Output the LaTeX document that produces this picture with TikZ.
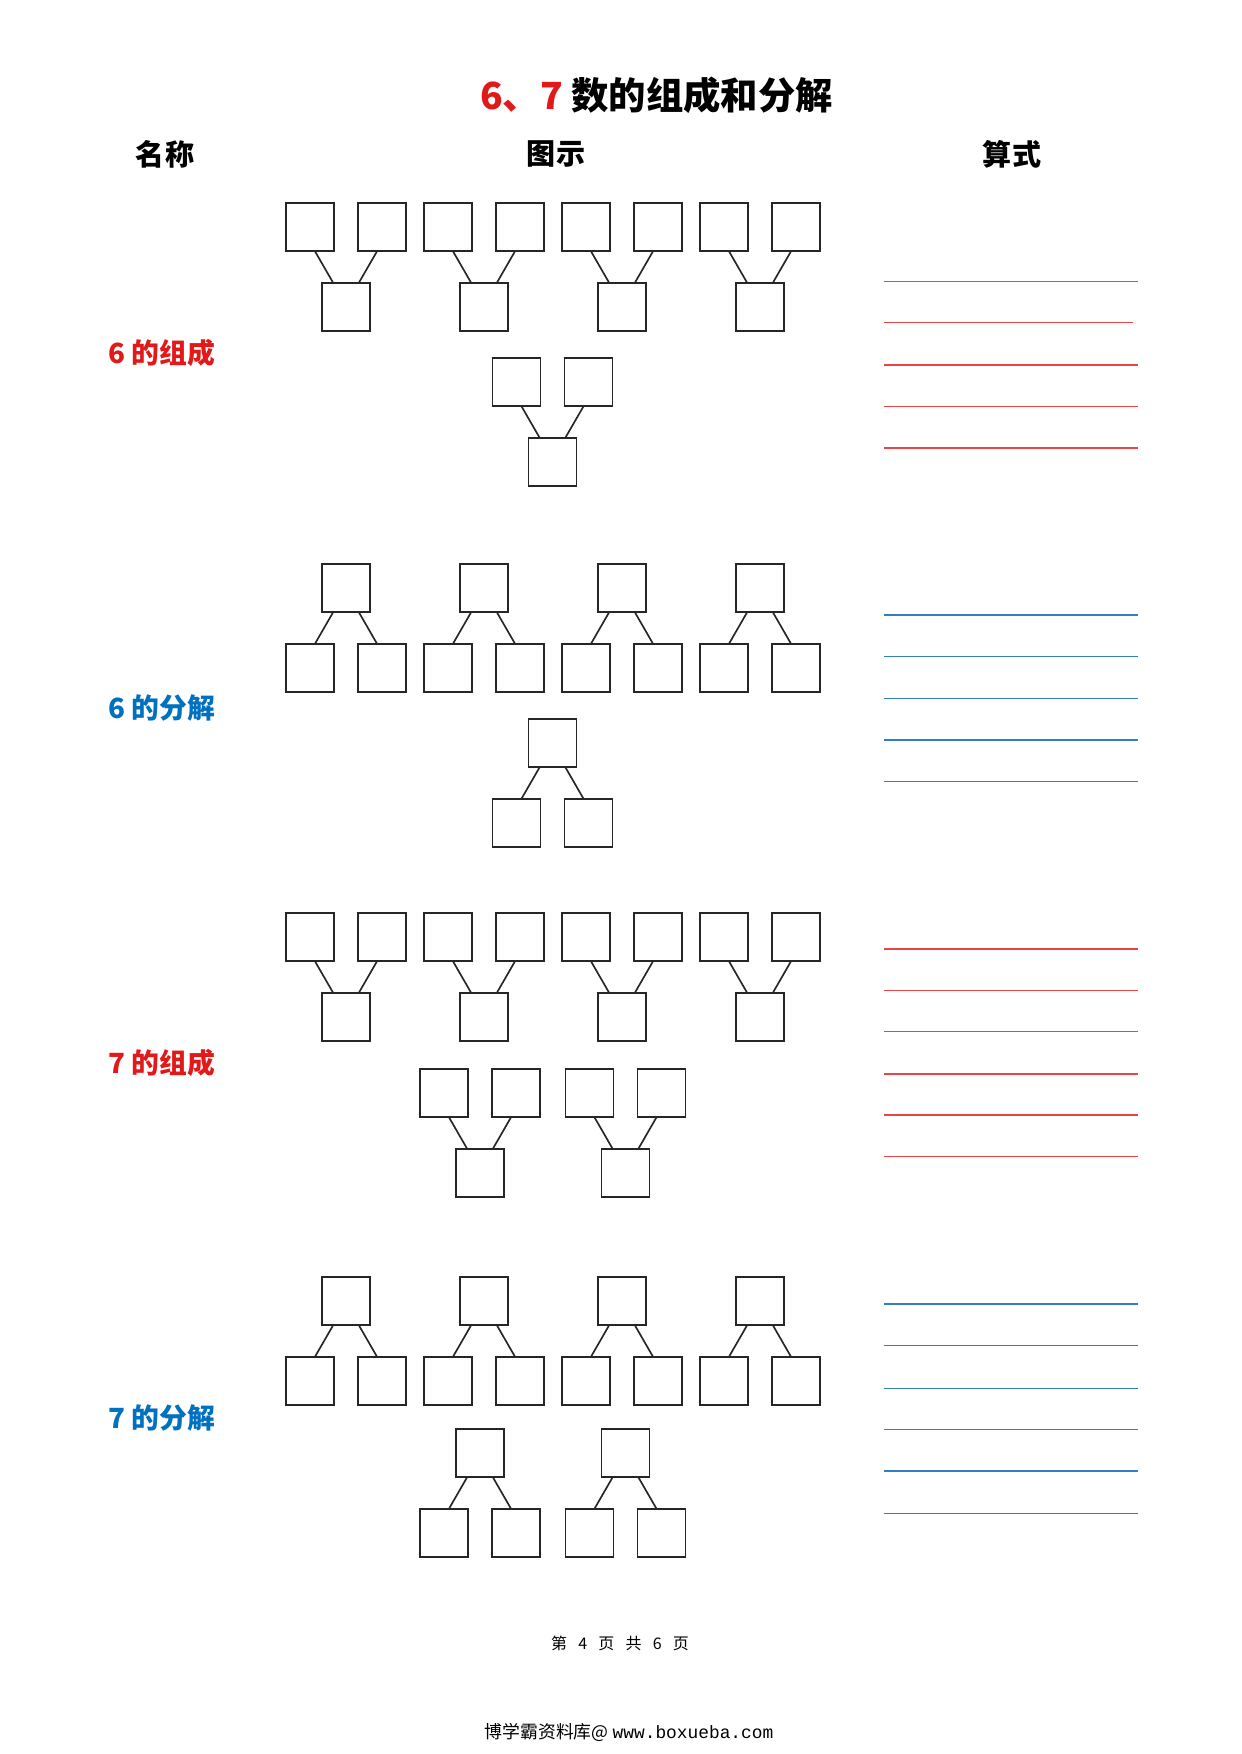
\documentclass[tikz,border=0pt]{standalone}
\usepackage{fontspec}
\usepackage{tikz}
\usetikzlibrary{positioning}
\newfontfamily\cjk{Noto Sans CJK SC}
\newfontfamily\webmono{Liberation Mono}
\definecolor{titelrot}{RGB}{226,25,25}
\definecolor{titelblau}{RGB}{0,112,192}
\definecolor{linierot}{RGB}{232,70,70}
\definecolor{linieblau}{RGB}{50,125,195}
\tikzset{blatt/.style={x=0.16933mm,y=-0.16933mm},
    kuang/.style={rectangle,draw=black!85,line width=0.8pt,minimum size=8.1mm,inner sep=0pt},
    lianxian/.style={draw=black!85,line width=0.8pt},
    hongxian/.style={draw=linierot,line width=0.6pt},
    lanxian/.style={draw=linieblau,line width=0.6pt},
    kopf/.style={font=\cjk\bfseries\fontsize{14}{16}\selectfont},
    biaoqian/.style={font=\cjk\bfseries\fontsize{13.4}{15}\selectfont,anchor=west}}

% two boxes above, one below: centre x, top y, name
\newcommand{\zucheng}[3]{%
    \node[kuang] (#3l) at (#1-36,#2+24) {};
    \node[kuang] (#3r) at (#1+36,#2+24) {};
    \node[kuang] (#3b) at (#1,#2+104) {};
    \path[lianxian] (#3l.-78) edge (#3b.118);
    \path[lianxian] (#3r.-102) edge (#3b.62);}
% one box above, two below
\newcommand{\fenjie}[3]{%
    \node[kuang] (#3t) at (#1,#2+24) {};
    \node[kuang] (#3l) at (#1-36,#2+104) {};
    \node[kuang] (#3r) at (#1+36,#2+104) {};
    \path[lianxian] (#3t.-118) edge (#3l.78);
    \path[lianxian] (#3t.-62) edge (#3r.102);}

\begin{document}
\begin{tikzpicture}[blatt]
    \fill[white] (0,0) rectangle (1241,1754);
    \useasboundingbox (0,0) rectangle (1241,1754);

    \node[font=\cjk\bfseries\fontsize{18}{20}\selectfont] (titel) at (656.5,95) {\textcolor{titelrot}{6、7} 数的组成和分解};
    \node[kopf] (mingcheng) at (165,154) {名称};
    \node[kopf] (tushi) at (556,154) {图示};
    \node[kopf] (suanshi) at (1012,154) {算式};

    \node[biaoqian,text=titelrot] (liuzu) at (101,353) {6 的组成};
    \node[biaoqian,text=titelblau] (liufen) at (101,708) {6 的分解};
    \node[biaoqian,text=titelrot] (qizu) at (101,1063) {7 的组成};
    \node[biaoqian,text=titelblau] (qifen) at (101,1418) {7 的分解};

    % 6 的组成
    \foreach \c [count=\i] in {346,484,622,760} {\zucheng{\c}{203}{a\i}}
    \zucheng{552.5}{358}{a5}
    % 6 的分解
    \foreach \c [count=\i] in {346,484,622,760} {\fenjie{\c}{564}{b\i}}
    \fenjie{552.5}{719}{b5}
    % 7 的组成
    \foreach \c [count=\i] in {346,484,622,760} {\zucheng{\c}{913}{c\i}}
    \zucheng{480}{1069}{c5}
    \zucheng{625.5}{1069}{c6}
    % 7 的分解
    \foreach \c [count=\i] in {346,484,622,760} {\fenjie{\c}{1277}{d\i}}
    \fenjie{480}{1429}{d5}
    \fenjie{625.5}{1429}{d6}

    % lines for the sums
    \foreach \y/\e in {281.7/1138,322.7/1133,365/1138,406.3/1138,448/1138}
        \draw[hongxian] (884,\y) -- (\e,\y);
    \foreach \y in {615,656.7,698.3,740,781.7}
        \draw[lanxian] (884,\y) -- (1138,\y);
    \foreach \y in {949,990.3,1031.3,1074,1115,1156.7}
        \draw[hongxian] (884,\y) -- (1138,\y);
    \foreach \y in {1304,1345.6,1388.2,1429.6,1471,1513.7}
        \draw[lanxian] (884,\y) -- (1138,\y);

    \node[font=\cjk\fontsize{7.7}{9}\selectfont] (seite) at (620,1643) {第\hspace{0.7em}4\hspace{0.7em}页\hspace{0.7em}共\hspace{0.7em}6\hspace{0.7em}页};
    \node[font=\cjk\fontsize{8.6}{10}\selectfont] (quelle) at (629,1732) {博学霸资料库@ {\webmono www.boxueba.com}};
\end{tikzpicture}
\end{document}
